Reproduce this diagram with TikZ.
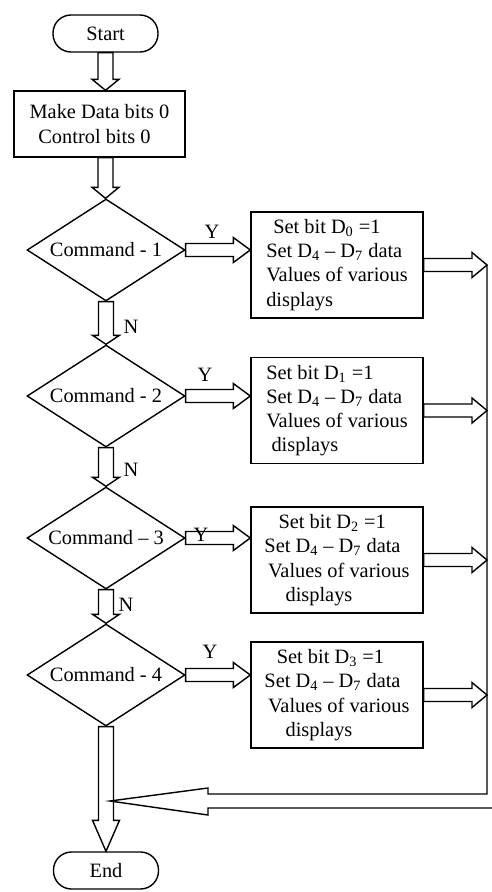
\documentclass[tikz,border=0pt]{standalone}
\usepackage{fontspec}
\setmainfont{Liberation Serif}
\usepackage{tikz}
\usetikzlibrary{calc,shapes.geometric}
\tikzset{
  flbox/.style={
    draw=black, line width=0.8pt, fill=white,
    align=left, inner sep=0pt
  },
  term/.style={flbox, align=center, rounded corners=0.36cm,
    minimum width=2.1cm, minimum height=0.74cm},
  initbox/.style={flbox, minimum width=3.42cm, minimum height=1.32cm},
  setbox/.style={flbox, minimum width=3.44cm, minimum height=2.12cm},
  cmd/.style={flbox, diamond, align=center, aspect=1.52,
    minimum width=3.16cm, minimum height=2.04cm},
  fat/.style={draw=black, line width=0.8pt, line join=miter},
  lbl/.style={inner sep=0pt},
  every picture/.append style={font=\fontsize{11.6}{13.8}\selectfont}
}
\newcommand{\fatdown}[3][10]{%
  \coordinate (fa) at (#2);
  \coordinate (fb) at (#2 |- #3);
  \draw[fat] ($(fa)+(-7.5,0)$) -- ($(fb)+(-7.5,-#1)$) -- ($(fb)+(-13.5,-#1)$)
    -- (fb) -- ($(fb)+(13.5,-#1)$) -- ($(fb)+(7.5,-#1)$) -- ($(fa)+(7.5,0)$) -- cycle;}
\newcommand{\fatright}[3][17]{%
  \coordinate (fa) at (#2);
  \coordinate (fb) at (#2 -| #3);
  \draw[fat] ($(fa)+(0,-6.5)$) -- ($(fb)+(-#1,-6.5)$) -- ($(fb)+(-#1,-12.5)$)
    -- (fb) -- ($(fb)+(-#1,12.5)$) -- ($(fb)+(-#1,6.5)$) -- ($(fa)+(0,6.5)$) -- cycle;}

\begin{document}
\begin{tikzpicture}[x=0.02cm, y=-0.02cm]
  \useasboundingbox (0,0) rectangle (492,892);
  \node[term] (start) at (105.5,33.5) {Start};
  \node[initbox] (init) at (99.5,124) {Make Data bits 0\\\hspace{5pt}Control bits 0};
  \node[cmd] (d1) at (106,250) {Command - 1};
  \node[cmd] (d2) at (106,396) {Command - 2};
  \node[cmd] (d3) at (106,538) {Command -- 3};
  \node[cmd] (d4) at (106,675) {Command - 4};
  \node[term] (end) at (106,870.5) {End};
  \node[setbox] (b1) at (337,265)
    {\hspace{4pt}Set bit D\textsubscript{0} =1\\Set D\textsubscript{4} -- D\textsubscript{7} data\\Values of various\\displays};
  \node[setbox] (b2) at (337,410.5)
    {Set bit D\textsubscript{1} =1\\Set D\textsubscript{4} -- D\textsubscript{7} data\\Values of various\\\hspace{3pt}displays};
  \node[setbox] (b3) at (337,560)
    {\hspace{8pt}Set bit D\textsubscript{2} =1\\Set D\textsubscript{4} -- D\textsubscript{7} data\\\hspace{2pt}Values of various\\\hspace{12pt}displays};
  \node[setbox] (b4) at (337,695)
    {\hspace{7pt}Set bit D\textsubscript{3} =1\\Set D\textsubscript{4} -- D\textsubscript{7} data\\\hspace{2pt}Values of various\\\hspace{12pt}displays};
  \coordinate (inout) at (init.south -| start.south);
  \coordinate (rail) at (487,794);
  \coordinate (join) at (110,801);
  \node[lbl] (y1) at (212,232) {Y};
  \node[lbl] (y2) at (205,375) {Y};
  \node[lbl] (y3) at (201,535) {Y};
  \node[lbl] (y4) at (210,652) {Y};
  \node[lbl] (n1) at (131,327) {N};
  \node[lbl] (n2) at (131,470) {N};
  \node[lbl] (n3) at (126,605) {N};
  \fatdown[11]{start.south}{init.north}
  \fatdown[11]{inout}{d1.north}
  \fatdown[9]{d1.south}{d2.north}
  \fatdown[9]{d2.south}{d3.north}
  \fatdown[9]{d3.south}{d4.north}
  \fatdown[31]{d4.south}{end.north}
  \fatright{d1.east}{b1.west}
  \fatright{d2.east}{b2.west}
  \fatright{d3.east}{b3.west}
  \fatright{d4.east}{b4.west}
  \fatright[15]{b1.east}{rail}
  \fatright[15]{b2.east}{rail}
  \fatright[15]{b3.east}{rail}
  \fatright[15]{b4.east}{rail}
  \draw[fat] (b1.east -| rail) -- (rail) -- ($(rail)+(-279,0)$) -- ($(rail)+(-279,-6)$)
    -- (join) -- ($(rail)+(-279,21)$) -- ($(rail)+(-279,14)$) -- ($(rail)+(5,14)$);
\end{tikzpicture}
\end{document}
